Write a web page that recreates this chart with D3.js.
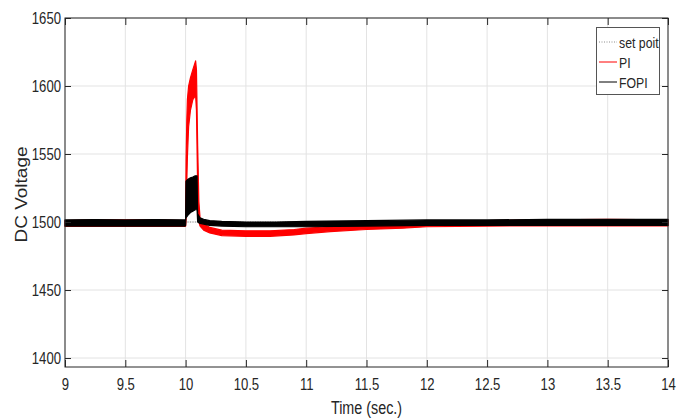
<!DOCTYPE html>
<html><head><meta charset="utf-8">
<script src="https://cdn.jsdelivr.net/npm/d3@7"></script>
<style>
html,body{margin:0;padding:0;background:#fff;}
svg{display:block;}
text{font-family:"Liberation Sans",Arial,sans-serif;fill:#262626;}
</style></head>
<body>
<svg id="chart" width="688" height="418"></svg>
<script>
// ---- data ----
const xTicks = [9, 9.5, 10, 10.5, 11, 11.5, 12, 12.5, 13, 13.5, 14];
const yTicks = [1400, 1450, 1500, 1550, 1600, 1650];
const seriesNames = ["set poit", "PI", "FOPI"];
const setPointT = [9, 14];
const setPointV = [1500, 1500];

// PI: noisy band (upper / lower envelope)
const piT  = [9.0, 9.25, 9.5, 9.75, 9.995, 10.0, 10.004, 10.01, 10.015, 10.025, 10.04, 10.06, 10.083, 10.09, 10.1, 10.11, 10.12, 10.15, 10.2, 10.3, 10.5, 10.7, 10.9, 11.0, 11.2, 11.5, 11.8, 12.0, 12.5, 13.0, 13.5, 14.0];
const piHi = [1501, 1501.5, 1501.5, 1501.5, 1501, 1502, 1545, 1575, 1590, 1600, 1606, 1612, 1618.5, 1612, 1556, 1515, 1503, 1499, 1496, 1494, 1493.5, 1493.5, 1494.5, 1495.5, 1496.5, 1497.5, 1499, 1500.5, 1501, 1501.5, 1502, 1501.5];
const piLo = [1496.8, 1496.8, 1496.8, 1496.8, 1496.8, 1497, 1502, 1530, 1548, 1570, 1582, 1590, 1593, 1582, 1525, 1500, 1497, 1494, 1492, 1490, 1489.5, 1489.5, 1490.5, 1491.5, 1493, 1494.5, 1495.5, 1496.5, 1497, 1497.2, 1497.2, 1497.2];

// FOPI: noisy band (upper / lower envelope)
const fopiT  = [9.0, 9.25, 9.5, 9.75, 9.995, 10.0, 10.003, 10.02, 10.04, 10.06, 10.08, 10.095, 10.1, 10.12, 10.15, 10.2, 10.3, 10.5, 10.75, 11.0, 11.5, 12.0, 12.5, 13.0, 13.5, 14.0];
const fopiHi = [1501.5, 1501.8, 1501.5, 1501.8, 1501.5, 1502, 1530, 1531.5, 1532.5, 1533, 1534, 1534, 1506, 1503, 1502, 1501, 1500.5, 1500, 1500, 1500.5, 1501, 1501.5, 1501.5, 1502, 1502, 1502];
const fopiLo = [1497, 1497, 1497, 1497, 1497, 1497.5, 1503, 1505, 1507, 1508, 1509, 1509, 1500, 1499, 1498.5, 1497.5, 1497, 1496.5, 1496.5, 1496.5, 1497, 1497.5, 1497.5, 1497.5, 1497.5, 1497.5];

// ---- layout ----
const W = 688, H = 418;
const m = {left: 65, right: 20, top: 18, bottom: 51};
const SX = 0.82; // horizontal squeeze of the lettering in the reference
const svg = d3.select("#chart");
const x = d3.scaleLinear().domain([9, 14]).range([m.left, W - m.right]);
const y = d3.scaleLinear().domain([1393.4, 1650]).range([H - m.bottom, m.top]);
const x0 = m.left, x1 = W - m.right, y0 = H - m.bottom, y1 = m.top;

// grid
svg.append("g").selectAll("line").data(xTicks).join("line")
  .attr("x1", d => x(d)).attr("x2", d => x(d)).attr("y1", y0).attr("y2", y1)
  .attr("stroke", "#e3e3e3").attr("stroke-width", 1);
svg.append("g").selectAll("line").data(yTicks).join("line")
  .attr("x1", x0).attr("x2", x1).attr("y1", d => y(d)).attr("y2", d => y(d))
  .attr("stroke", "#e3e3e3").attr("stroke-width", 1);

const plot = svg.append("g");
// set point
plot.append("path")
  .datum(setPointT.map((t, i) => [t, setPointV[i]]))
  .attr("d", d3.line().x(d => x(d[0])).y(d => y(d[1])))
  .attr("fill", "none").attr("stroke", "#8c8c8c").attr("stroke-width", 1).attr("stroke-dasharray", "1,1.5");

function band(T, hi, lo, color) {
  const data = T.map((t, i) => ({t, hi: hi[i], lo: lo[i]}));
  plot.append("path").datum(data)
    .attr("d", d3.area().x(d => x(d.t)).y0(d => y(d.lo)).y1(d => y(d.hi)))
    .attr("fill", color).attr("stroke", color).attr("stroke-width", 1.2).attr("stroke-linejoin", "round");
}
band(piT, piHi, piLo, "#ff0000");
band(fopiT, fopiHi, fopiLo, "#000000");

// axes box with inward ticks on all sides
const axCol = "#262626";
const axB = svg.append("g").attr("transform", `translate(0,${y0})`)
  .call(d3.axisBottom(x).tickValues(xTicks).tickSizeInner(-7).tickSizeOuter(0).tickPadding(12).tickFormat(d3.format("")));
const axT = svg.append("g").attr("transform", `translate(0,${y1})`)
  .call(d3.axisTop(x).tickValues(xTicks).tickSizeInner(-7).tickSizeOuter(0).tickFormat(""));
const axL = svg.append("g").attr("transform", `translate(${x0},0)`)
  .call(d3.axisLeft(y).tickValues(yTicks).tickSizeInner(-6).tickSizeOuter(0).tickPadding(4).tickFormat(d3.format("")));
const axR = svg.append("g").attr("transform", `translate(${x1},0)`)
  .call(d3.axisRight(y).tickValues(yTicks).tickSizeInner(-6).tickSizeOuter(0).tickFormat(""));
[axB, axT, axL, axR].forEach(g => {
  g.select(".domain").remove();
  g.selectAll("line").attr("stroke", axCol);
  g.selectAll("text").attr("font-size", 16).attr("fill", axCol)
    .attr("font-family", '"Liberation Sans",Arial,sans-serif');
});
axL.selectAll("text").attr("x", -4 / SX).attr("transform", `scale(${SX},1)`);
axB.selectAll("text").attr("transform", `scale(${SX},1)`);
svg.append("rect").attr("x", x0).attr("y", y1).attr("width", x1 - x0).attr("height", y0 - y1)
  .attr("fill", "none").attr("stroke", axCol).attr("stroke-width", 1);

// axis labels
svg.append("text").attr("transform", `translate(${(x0 + x1) / 2},414) scale(${SX},1)`)
  .attr("text-anchor", "middle").attr("font-size", 17.5).text("Time (sec.)");
svg.append("text").attr("transform", `translate(27,194.5) rotate(-90) scale(1,${SX})`)
  .attr("text-anchor", "middle").attr("font-size", 19).text("DC Voltage");

// legend
const lg = svg.append("g");
lg.append("rect").attr("x", 596.5).attr("y", 27.5).attr("width", 63).attr("height", 67)
  .attr("fill", "#fff").attr("stroke", "#555").attr("stroke-width", 1);
const legStyles = [
  {c: "#8c8c8c", dash: "1,1.5"},
  {c: "#ff0000", dash: null},
  {c: "#000000", dash: null}
];
seriesNames.forEach((n, i) => {
  const yy = 42 + i * 20;
  lg.append("line").attr("x1", 599).attr("x2", 617).attr("y1", yy).attr("y2", yy)
    .attr("stroke", legStyles[i].c).attr("stroke-width", 1)
    .attr("stroke-dasharray", legStyles[i].dash);
  lg.append("text").attr("transform", `translate(619,${yy + 5.5}) scale(${SX},1)`)
    .attr("font-size", 15).text(n);
});
</script>
</body></html>
